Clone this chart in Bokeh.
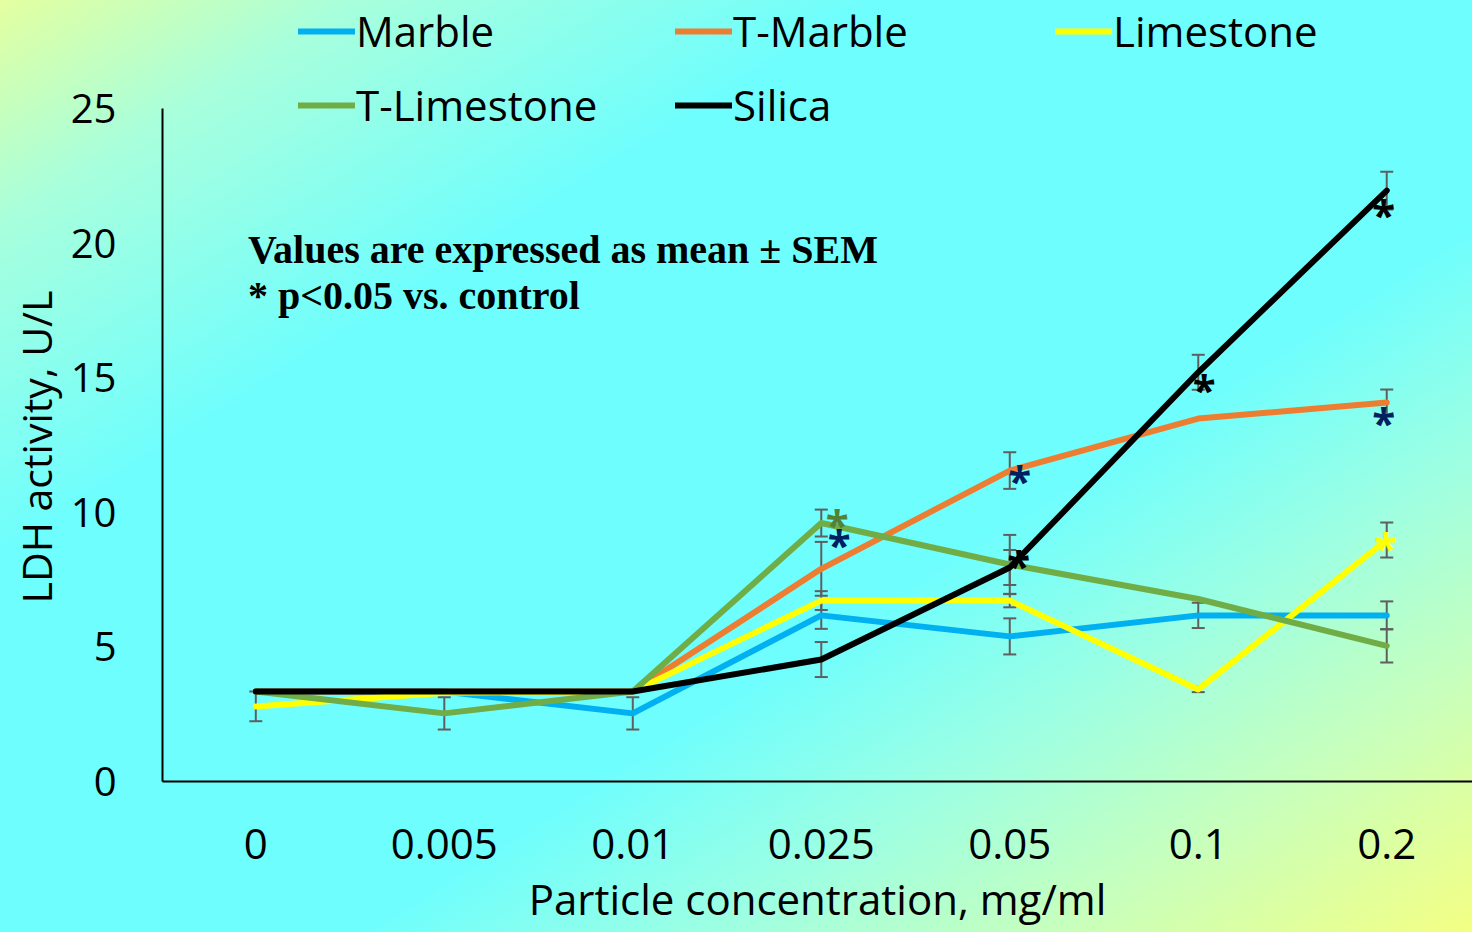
from bokeh.plotting import figure
from bokeh.models import (ColumnDataSource, Whisker, TeeHead, Legend, LegendItem,
                          FixedTicker, Label, Range1d, InlineStyleSheet, Title)
from bokeh.core.properties import value
from bokeh.embed import file_html
from bokeh.resources import INLINE

# ---------------- data ----------------
concentrations = ["0", "0.005", "0.01", "0.025", "0.05", "0.1", "0.2"]
series_names = ["Marble", "T-Marble", "Limestone", "T-Limestone", "Silica"]

marble = [3.34, 3.34, 2.53, 6.17, 5.39, 6.17, 6.17]
t_marble = [3.34, 3.34, 3.34, 7.9, 11.55, 13.48, 14.08]
limestone = [2.79, 3.3, 3.34, 6.72, 6.72, 3.42, 8.97]
t_limestone = [3.34, 2.53, 3.34, 9.6, 8.06, 6.78, 5.04]
silica = [3.34, 3.34, 3.34, 4.53, 7.95, 15.2, 21.95]

marble_sem = [0, 0, 0.6, 0.5, 0.67, 0.47, 0.52]
t_marble_sem = [0, 0, 0, 1.0, 0.68, 0, 0.48]
limestone_sem = [0.55, 0, 0, 0.35, 0.25, 0.1, 0.65]
t_limestone_sem = [0, 0.6, 0, 0.5, 1.1, 0, 0.62]
silica_sem = [0, 0, 0, 0.65, 0.65, 0.65, 0.7]

y_ticks = [0, 5, 10, 15, 20, 25]

# significance markers: (series, concentration index)
star_series = ["T-Limestone", "T-Marble", "T-Marble", "Silica", "Silica", "Silica", "T-Marble", "Limestone"]
star_index = [3, 3, 4, 4, 5, 6, 6, 6]

note_lines = ["Values are expressed as mean \u00b1 SEM", "* p<0.05 vs. control"]
x_title = "Particle concentration, mg/ml"
y_title = "LDH activity, U/L"

# ---------------- styles ----------------
colors = {"Marble": "#00b0f0", "T-Marble": "#ed7d31", "Limestone": "#ffff00",
          "T-Limestone": "#70ad47", "Silica": "#000000"}
star_colors = ["#548235", "#002060", "#002060", "#000000", "#000000", "#000000", "#002060", "#ffff00"]
star_dx = [16, 18, 10, 9, 6, -3, -3, -1]
star_dy = [-3, -28, 6, -6, 13, 20, 16, 3]

values_by = {"Marble": marble, "T-Marble": t_marble, "Limestone": limestone,
             "T-Limestone": t_limestone, "Silica": silica}
sem_by = {"Marble": marble_sem, "T-Marble": t_marble_sem, "Limestone": limestone_sem,
          "T-Limestone": t_limestone_sem, "Silica": silica_sem}

xs = list(range(len(concentrations)))

bg = InlineStyleSheet(css=""":host { background: linear-gradient(to bottom right,
    #e4ffa0 0%, #a8ffdc 12%, #6efefe 30%, #6efefe 62%, #a0ffe0 75%, #c8ffbc 86%, #f4ff84 100%); }""")

# frame spans from the top of the canvas down to the x axis; y axis line bounded to 0..25
p = figure(width=1472, height=932, x_range=Range1d(-0.495, 6.455), y_range=Range1d(0, 29.01),
           output_backend="svg", toolbar_location=None,
           min_border_left=162, min_border_top=0, min_border_bottom=151, min_border_right=0,
           background_fill_alpha=0, border_fill_alpha=0, outline_line_color=None)
p.stylesheets = [bg]
p.grid.visible = False

# error bars
for name in series_names:
    vals, sems = values_by[name], sem_by[name]
    bx = [x for x, s in zip(xs, sems) if s > 0]
    lo = [v - s for v, s in zip(vals, sems) if s > 0]
    up = [v + s for v, s in zip(vals, sems) if s > 0]
    src = ColumnDataSource(dict(x=bx, lower=lo, upper=up))
    w = Whisker(base="x", lower="lower", upper="upper", source=src, dimension="height",
                line_color="#5f5f5f", line_width=2, level="underlay",
                upper_head=TeeHead(size=13, line_color="#5f5f5f", line_width=2),
                lower_head=TeeHead(size=13, line_color="#5f5f5f", line_width=2))
    p.add_layout(w)

renderers = {}
for name in series_names:
    renderers[name] = p.line(xs, values_by[name], line_color=colors[name], line_width=6,
                             line_join="round", line_cap="round")

# asterisks
sx = star_index
sy = [values_by[s][i] for s, i in zip(star_series, star_index)]
star_src = ColumnDataSource(dict(x=sx, y=sy, c=star_colors, dx=star_dx,
                                 dy=[d + 3 for d in star_dy], t=["*"] * len(sx)))
p.text(x="x", y="y", text="t", text_color="c", x_offset="dx", y_offset="dy", source=star_src,
       text_font=value("Open Sans"), text_font_size="42px", text_align="center",
       text_baseline="alphabetic", text_font_style="bold")

# notes
p.add_layout(Label(x=-0.042, y=19.76, text=note_lines[0], text_font="Liberation Serif",
                   text_font_style="bold", text_font_size="40px", text_color="black",
                   text_baseline="alphabetic"))
p.add_layout(Label(x=-0.042, y=18.07, text=note_lines[1], text_font="Liberation Serif",
                   text_font_style="bold", text_font_size="40px", text_color="black",
                   text_baseline="alphabetic"))

# axes
p.xaxis.ticker = FixedTicker(ticks=xs)
p.xaxis.major_label_overrides = {i: c for i, c in zip(xs, concentrations)}
p.yaxis.ticker = FixedTicker(ticks=y_ticks)
p.yaxis.bounds = (0, 25)
for ax in (p.xaxis, p.yaxis):
    ax.axis_line_color = "black"
    ax.axis_line_width = 2
    ax.major_tick_line_color = None
    ax.minor_tick_line_color = None
    ax.major_tick_out = 0
    ax.major_tick_in = 0
    ax.major_label_text_font = "Open Sans"
    ax.major_label_text_color = "black"
    ax.axis_label_text_font = "Open Sans"
    ax.axis_label_text_font_style = "normal"
    ax.axis_label_text_color = "black"
p.xaxis.major_label_text_font_size = "42px"
p.yaxis.major_label_text_font_size = "40px"
p.xaxis.major_label_standoff = 47
p.yaxis.major_label_standoff = 46
p.xaxis.axis_label = x_title
p.xaxis.axis_label_text_font_size = "42px"
p.xaxis.axis_label_standoff = 8

# y title as a left-panel title, placed along the bounded 0..25 part of the axis
p.add_layout(Title(text=y_title, align="left", offset=178, standoff=8,
                   text_font="Open Sans", text_font_size="41px", text_font_style="normal",
                   text_color="black"), "left")

# legend: one small legend per entry
legend_pos = {"Marble": (136, 722), "T-Marble": (513, 722), "Limestone": (893, 722),
              "T-Limestone": (136, 648), "Silica": (513, 648)}
for name in series_names:
    leg = Legend(items=[LegendItem(label=name, renderers=[renderers[name]])],
                 location=legend_pos[name], padding=0, margin=0, spacing=0,
                 border_line_alpha=0, background_fill_alpha=0,
                 glyph_width=57, glyph_height=20, label_height=20, label_standoff=1,
                 label_text_font="Open Sans", label_text_font_size="42px",
                 label_text_color="black")
    p.add_layout(leg)

open("out.html", "w").write(file_html(p, INLINE))
